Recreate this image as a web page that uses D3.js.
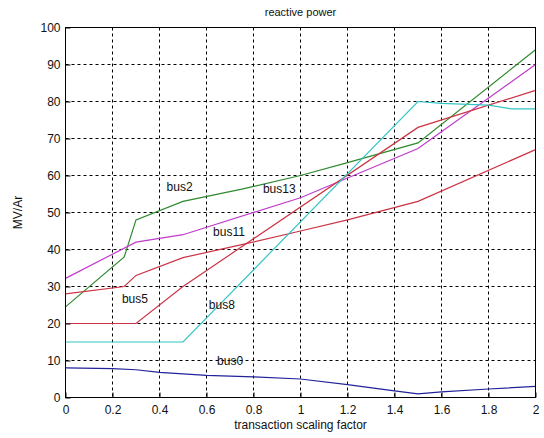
<!DOCTYPE html>
<html>
<head>
<meta charset="utf-8">
<script src="https://cdn.jsdelivr.net/npm/d3@7"></script>
<style>
  body { margin: 0; background: #fff; }
  text { font-family: Arial, "Liberation Sans", sans-serif; }
</style>
</head>
<body>
<svg id="chart" width="544" height="438"></svg>
<script>
// series: [scaling factor, MVAr]
const bus0 = [[0, 8], [0.2, 7.8], [0.3, 7.5], [0.4, 6.8], [0.6, 6], [0.8, 5.6], [1.0, 5], [1.2, 3.5], [1.4, 1.8], [1.5, 1], [1.6, 1.5], [1.8, 2.3], [2.0, 3]];
const bus2 = [[0, 24.5], [0.25, 38], [0.3, 48], [0.5, 53], [0.75, 56.3], [1.0, 60], [1.2, 63.5], [1.5, 68.8], [2.0, 94]];
const bus11 = [[0, 32.2], [0.3, 42], [0.5, 44], [1.0, 54], [1.5, 67.3], [2.0, 90]];
const bus5 = [[0, 28], [0.25, 30], [0.3, 33], [0.5, 37.8], [0.75, 41.3], [1.0, 45], [1.2, 48], [1.5, 53], [2.0, 67]];
const bus13 = [[0, 20], [0.3, 20], [0.5, 30], [1.5, 73], [2.0, 83]];
const bus8 = [[0, 15], [0.5, 15], [1.5, 80], [1.6, 79.5], [1.8, 79], [1.9, 78], [2.0, 78]];

const seriesNames = ["bus0", "bus2", "bus11", "bus5", "bus13", "bus8"];
const seriesData = [bus0, bus2, bus11, bus5, bus13, bus8];
const seriesColors = ["#22229a", "#2f8a2f", "#c03ccc", "#cc3344", "#cc3344", "#33c4c4"];

// text labels placed in data units (left edge, middle)
const labelText = ["bus2", "bus13", "bus11", "bus5", "bus8", "bus0"];
const labelX = [0.43, 0.84, 0.628, 0.24, 0.61, 0.645];
const labelY = [57, 56.4, 44.8, 26.6, 25, 10];

const xTicks = [0, 0.2, 0.4, 0.6, 0.8, 1, 1.2, 1.4, 1.6, 1.8, 2];
const yTicks = [0, 10, 20, 30, 40, 50, 60, 70, 80, 90, 100];

const margin = {top: 27.5, right: 8.5, bottom: 40.5, left: 65.5};
const width = 544 - margin.left - margin.right;
const height = 438 - margin.top - margin.bottom;

const svg = d3.select("#chart");
svg.append("rect").attr("width", 544).attr("height", 438).attr("fill", "#fff");

const g = svg.append("g").attr("transform", "translate(" + margin.left + "," + margin.top + ")");

const x = d3.scaleLinear().domain([0, 2]).range([0, width]);
const y = d3.scaleLinear().domain([0, 100]).range([height, 0]);

// grid
g.append("g").selectAll("line").data(xTicks.slice(1, -1)).enter().append("line")
  .attr("x1", d => Math.round(x(d))).attr("x2", d => Math.round(x(d)))
  .attr("y1", 0).attr("y2", height)
  .attr("stroke", "#000").attr("stroke-dasharray", "3,3");
g.append("g").selectAll("line").data(yTicks.slice(1, -1)).enter().append("line")
  .attr("y1", d => Math.round(y(d))).attr("y2", d => Math.round(y(d)))
  .attr("x1", 0).attr("x2", width)
  .attr("stroke", "#000").attr("stroke-dasharray", "3,3");

// lines
const line = d3.line().x(d => x(d[0])).y(d => y(d[1]));
seriesData.forEach(function(s, i) {
  g.append("path").datum(s)
    .attr("fill", "none")
    .attr("stroke", seriesColors[i])
    .attr("stroke-width", 1.2)
    .attr("d", line);
});

// labels
labelText.forEach(function(t, i) {
  g.append("text")
    .attr("x", x(labelX[i])).attr("y", y(labelY[i]))
    .attr("dy", "0.35em")
    .attr("font-size", "12px")
    .attr("fill", "#111")
    .text(t);
});

// axes
const xAxis = d3.axisBottom(x).tickValues(xTicks).tickSize(-5).tickPadding(8).tickFormat(d3.format("~g"));
const yAxis = d3.axisLeft(y).tickValues(yTicks).tickSize(-5).tickPadding(5);

g.append("g").attr("transform", "translate(0," + height + ")").call(xAxis)
  .call(a => a.selectAll("text").attr("font-size", "12px").attr("fill", "#111"));
g.append("g").call(yAxis)
  .call(a => a.selectAll("text").attr("font-size", "12px").attr("fill", "#111"));
g.selectAll(".domain").remove();

// frame
g.append("rect").attr("width", width).attr("height", height)
  .attr("fill", "none").attr("stroke", "#000");

// titles
svg.append("text").attr("x", margin.left + width / 2).attr("y", 16)
  .attr("text-anchor", "middle").attr("font-size", "11px").attr("fill", "#111")
  .text("reactive power");
svg.append("text").attr("x", margin.left + width / 2).attr("y", 429)
  .attr("text-anchor", "middle").attr("font-size", "12px").attr("fill", "#111")
  .text("transaction scaling factor");
svg.append("text")
  .attr("transform", "translate(22," + (margin.top + height / 2) + ") rotate(-90)")
  .attr("text-anchor", "middle").attr("font-size", "12px").attr("fill", "#111")
  .text("MV/Ar");
</script>
</body>
</html>
